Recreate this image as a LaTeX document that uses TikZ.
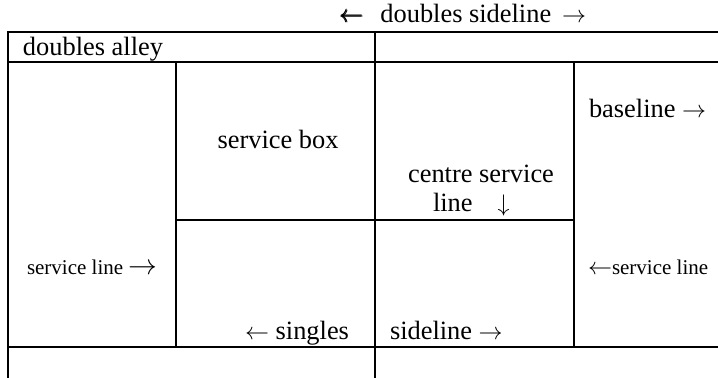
\documentclass[tikz,border=0pt]{standalone}
\usepackage{amsmath}
\usepackage{fontspec}
\setmainfont{Liberation Serif}
\tikzset{
  court/.style={line width=1pt, line cap=rect},
  lbl/.style={inner sep=0pt, outer sep=0pt, font=\fontsize{13.2}{15}\selectfont},
  smalllbl/.style={inner sep=0pt, outer sep=0pt, font=\fontsize{10.5}{12}\selectfont}
}
\begin{document}
\begin{tikzpicture}[x=0.5pt, y=-0.5pt]
\useasboundingbox (0,0) rectangle (718,377);
% coordinates of the court lines
\coordinate (tl) at (8,32);
\coordinate (tr) at (718,32);
\coordinate (al) at (8,62);
\coordinate (ar) at (718,62);
\coordinate (bl) at (8,347);
\coordinate (br) at (718,347);
\coordinate (lb) at (8,377);
\coordinate (ct) at (375,32);
\coordinate (cb) at (375,377);
\coordinate (sl1) at (176,62);
\coordinate (sl2) at (176,347);
\coordinate (sr1) at (574,62);
\coordinate (sr2) at (574,347);
\coordinate (svl) at (176,220);
\coordinate (svr) at (574,220);
\draw[court] (tl) -- (tr);
\draw[court] (al) -- (ar);
\draw[court] (bl) -- (br);
\draw[court] (tl) -- (lb);
\draw[court] (ct) -- (cb);
\draw[court] (sl1) -- (sl2);
\draw[court] (sr1) -- (sr2);
\draw[court] (svl) -- (svr);
% labels
\node[lbl, anchor=base west] (dsl) at (340,22) {$\pmb{\leftarrow}$\hspace{8.2pt}doubles sideline\hspace{5.5pt}$\rightarrow$};
\node[lbl, anchor=base west] (da) at (23,55) {doubles alley};
\node[lbl, anchor=base] (sb) at (278,148) {service box};
\node[lbl, anchor=base] (csl1) at (481,182) {centre service};
\node[lbl, anchor=base west] (csl2) at (433,211) {line\hspace{12.5pt}$\downarrow$};
\node[lbl, anchor=base west] (bsl) at (589,117) {baseline $\rightarrow$};
\node[smalllbl, anchor=base west] (svlL) at (27,274) {service line {\fontsize{14}{15}\selectfont$\rightarrow$}};
\node[smalllbl, anchor=base west] (svlR) at (588,274) {{\fontsize{12.5}{15}\selectfont$\leftarrow$}service line};
\node[lbl, anchor=base east] (sng) at (349,339) {$\leftarrow$ singles};
\node[lbl, anchor=base west] (sdl) at (390,339) {sideline $\rightarrow$};
\end{tikzpicture}
\end{document}
